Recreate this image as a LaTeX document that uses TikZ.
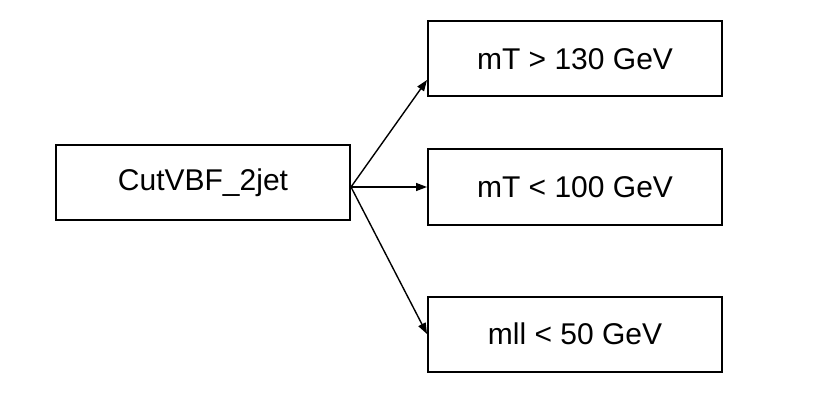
\documentclass[tikz,border=0pt]{standalone}
\usepackage{fontspec}
\setmainfont{Liberation Sans}
\usetikzlibrary{arrows.meta}
\begin{document}
\begin{tikzpicture}[x=1pt,y=1pt,
  cutbox/.style={draw, line width=2pt, minimum width=294pt, minimum height=75pt,
    inner sep=0pt, font=\fontsize{30}{36}\selectfont},
  flow/.style={line width=1.4pt, -{Triangle[length=11pt,width=8pt]}}]
  \useasboundingbox (0,0) rectangle (826,402);
  % source selection
  \node[cutbox] (src) at (203,219.5) {CutVBF\_2jet};
  % derived selections
  \node[cutbox] (hi) at (575,343) {mT > 130 GeV};
  \node[cutbox] (lo) at (575,215) {mT < 100 GeV};
  \node[cutbox] (ll) at (575,68) {mll < 50 GeV};
  \coordinate (fork) at ([yshift=-4.5pt]src.east);
  \draw[flow] (fork) -- ([yshift=-21pt]hi.west);
  \draw[flow] (fork) -- (lo.west);
  \draw[flow] (fork) -- (ll.west);
\end{tikzpicture}
\end{document}
